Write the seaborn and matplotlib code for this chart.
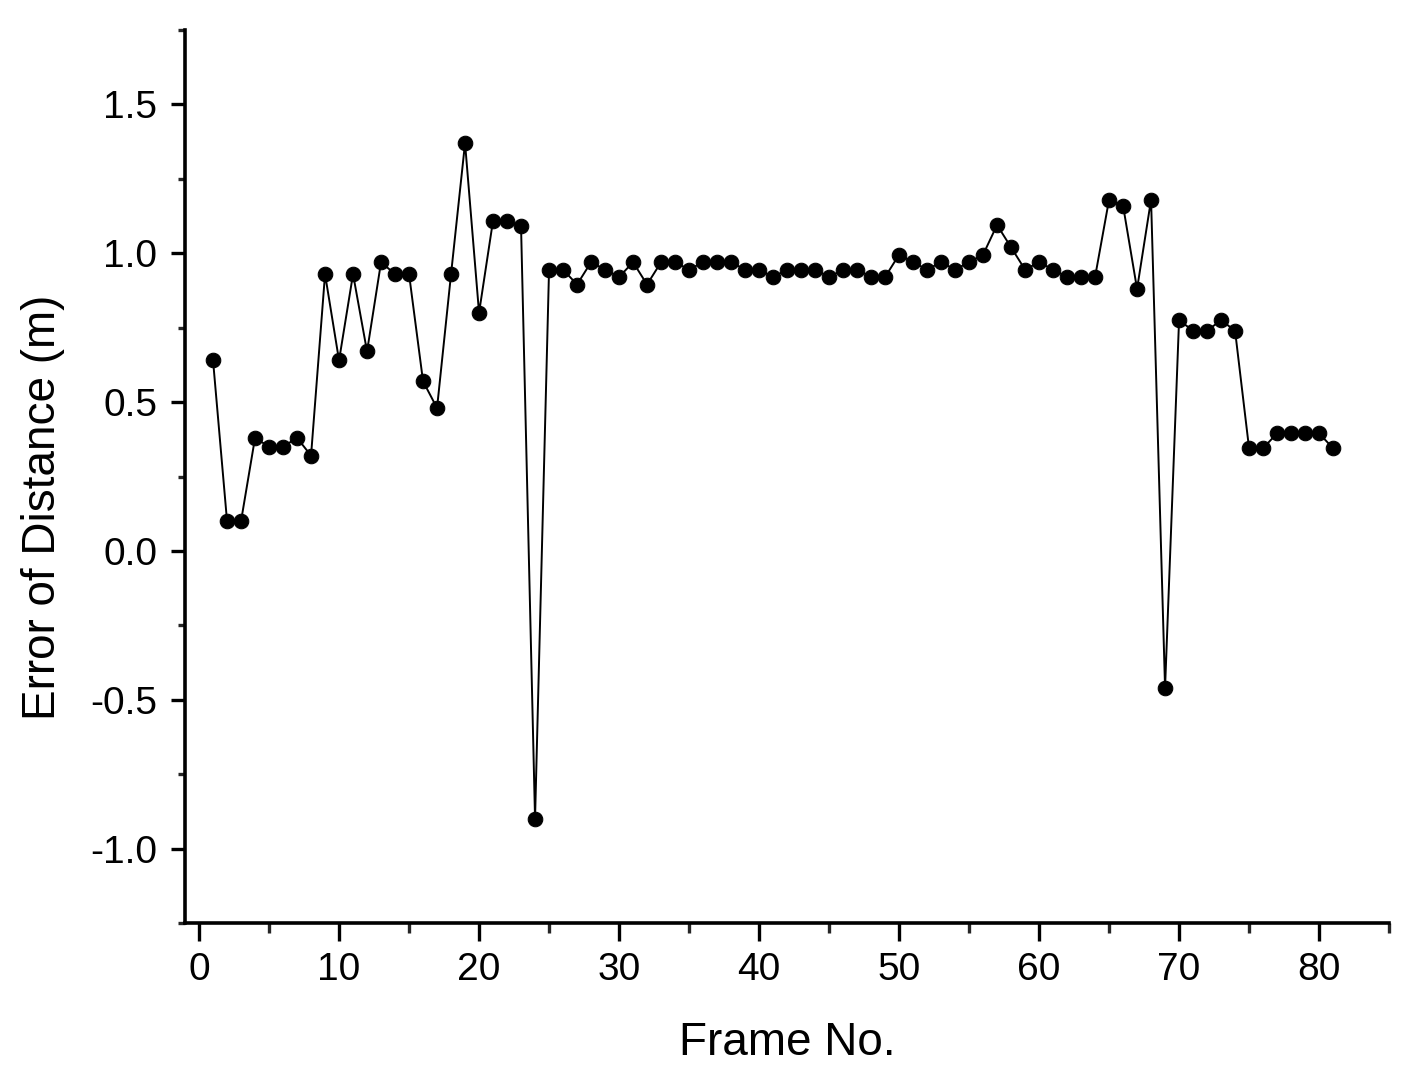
import matplotlib
matplotlib.use('Agg')
import matplotlib.pyplot as plt
import pandas as pd
import seaborn as sns
from matplotlib.ticker import MultipleLocator

# Data
frames = list(range(1, 82))
errors = [0.64, 0.10, 0.10, 0.38, 0.35, 0.35, 0.38, 0.32, 0.93, 0.64,
          0.93, 0.67, 0.97, 0.93, 0.93, 0.57, 0.48, 0.93, 1.37, 0.80,
          1.11, 1.11, 1.09, -0.90, 0.945, 0.945, 0.895, 0.97, 0.945, 0.92,
          0.97, 0.895, 0.97, 0.97, 0.945, 0.97, 0.97, 0.97, 0.945, 0.945,
          0.92, 0.945, 0.945, 0.945, 0.92, 0.945, 0.945, 0.92, 0.92, 0.995,
          0.97, 0.945, 0.97, 0.945, 0.97, 0.995, 1.095, 1.02, 0.945, 0.97,
          0.945, 0.92, 0.92, 0.92, 1.18, 1.16, 0.88, 1.18, -0.46, 0.775,
          0.74, 0.74, 0.775, 0.74, 0.345, 0.345, 0.395, 0.395, 0.395, 0.395,
          0.345]

df = pd.DataFrame({'Frame': frames, 'Error': errors})

sns.set_style('ticks')
plt.rcParams['font.family'] = ['Liberation Sans', 'DejaVu Sans']
plt.rcParams['axes.unicode_minus'] = False
plt.rcParams['text.color'] = 'black'
plt.rcParams['axes.labelcolor'] = 'black'

fig = plt.figure(figsize=(14.19, 10.72), dpi=100)
ax = fig.add_axes([0.1304, 0.139, 0.8485, 0.833])

sns.lineplot(data=df, x='Frame', y='Error', ax=ax, color='black',
             linewidth=1.4, marker='o', markersize=10.5,
             markeredgecolor='black', markerfacecolor='black')

ax.set_xlim(-1, 85)
ax.set_ylim(-1.25, 1.75)
ax.xaxis.set_minor_locator(MultipleLocator(5))
ax.yaxis.set_minor_locator(MultipleLocator(0.25))
ax.set_xticks([0, 10, 20, 30, 40, 50, 60, 70, 80])
ax.set_xticklabels(['0', '10', '20', '30', '40', '50', '60', '70', '80'])
ax.set_yticks([-1.0, -0.5, 0.0, 0.5, 1.0, 1.5])
ax.set_yticklabels(['-1.0', '-0.5', '0.0', '0.5', '1.0', '1.5'])

for side in ['top', 'right']:
    ax.spines[side].set_visible(False)
for side in ['left', 'bottom']:
    ax.spines[side].set_linewidth(2.6)
    ax.spines[side].set_color('black')

ax.tick_params(axis='x', which='major', direction='out', length=13, width=2.4,
               labelsize=28, pad=8, colors='black')
ax.tick_params(axis='x', which='minor', direction='out', length=7, width=2.4)
ax.tick_params(axis='y', which='major', direction='out', length=10, width=2.4,
               labelsize=28, pad=10, colors='black')
ax.tick_params(axis='y', which='minor', direction='out', length=5, width=2.4)

ax.set_xlabel('Frame No.', fontsize=33, labelpad=24)
ax.set_ylabel('Error of Distance (m)', fontsize=33)
ax.yaxis.set_label_coords(-0.1, 0.466)

fig.savefig('out.png', dpi=100)
